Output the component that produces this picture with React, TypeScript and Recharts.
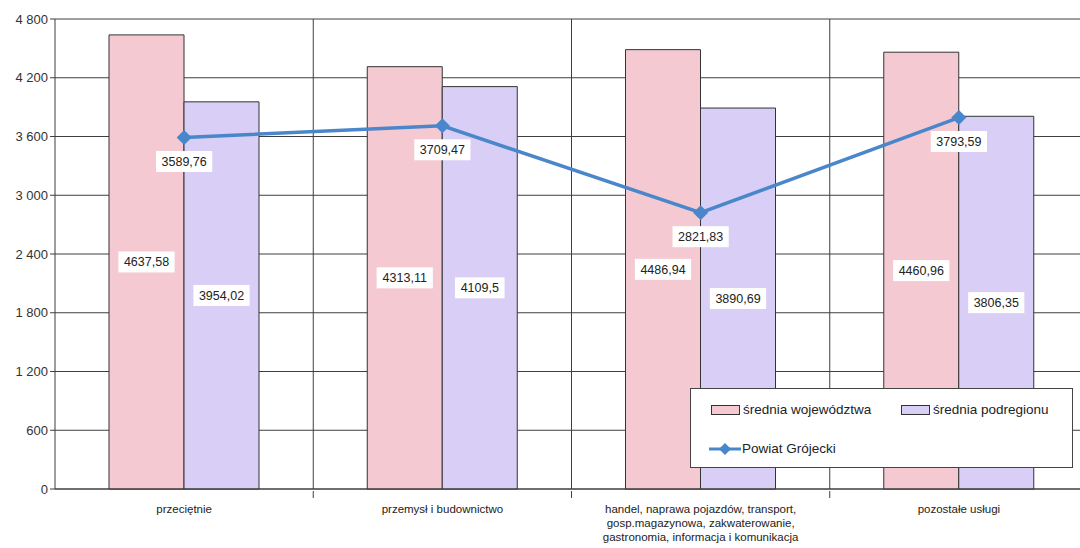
import React from "react";
import {
  ComposedChart, Bar, Line, XAxis, YAxis, CartesianGrid, LabelList,
} from "recharts";

const categories = [
  "przeciętnie",
  "przemysł i budownictwo",
  "handel, naprawa pojazdów, transport,\ngosp.magazynowa, zakwaterowanie,\ngastronomia, informacja i komunikacja",
  "pozostałe usługi",
];
const sredniaWojewodztwa = [4637.58, 4313.11, 4486.94, 4460.96];
const sredniaPodregionu = [3954.02, 4109.5, 3890.69, 3806.35];
const powiatGrojecki = [3589.76, 3709.47, 2821.83, 3793.59];
const yTicks = [0, 600, 1200, 1800, 2400, 3000, 3600, 4200, 4800];

const data = categories.map((name, i) => ({
  name,
  woj: sredniaWojewodztwa[i],
  pod: sredniaPodregionu[i],
  powiat: powiatGrojecki[i],
}));

const FONT = '"Liberation Sans Narrow", "Arial Narrow", "Liberation Sans", Arial, sans-serif';
const PINK = "#F5C9D2";
const LILAC = "#D8CEF6";
const BLUE = "#4A86CA";
const GRID = "#3f3f3f";

const fmt = (v: number) => String(v).replace(".", ",");
const thousands = (v: number) => String(v).replace(/\B(?=(\d{3})+(?!\d))/g, " ");

function LabelBox({ cx, cy, text }: { cx: number; cy: number; text: string }) {
  const w = text.length * 6.6 + 10;
  const h = 21;
  return (
    <g>
      <rect x={cx - w / 2} y={cy - h / 2} width={w} height={h} fill="#fff" />
      <text x={cx} y={cy + 4.5} textAnchor="middle" fontSize={12.5} fill="#222" fontFamily={FONT}>
        {text}
      </text>
    </g>
  );
}

const barLabel = (props: any) => {
  const { x, y, width, height, value } = props;
  return <LabelBox cx={x + width / 2} cy={y + height / 2} text={fmt(value)} />;
};

const lineLabel = (props: any) => {
  const { x, y, value } = props;
  return <LabelBox cx={x} cy={y + 24} text={fmt(value)} />;
};

const Diamond = (props: any) => {
  const { cx, cy } = props;
  const r = 7.5;
  return (
    <path
      d={`M${cx},${cy - r} L${cx + r},${cy} L${cx},${cy + r} L${cx - r},${cy} Z`}
      fill={BLUE}
    />
  );
};

const XTick = (props: any) => {
  const { x, y, payload, width } = props;
  const lines = String(payload.value).split("\n");
  const half = typeof width === "number" ? width / categories.length / 2 : 0;
  return (
    <g>
      {half > 0 && payload.index < categories.length - 1 && (
        <line x1={x + half} y1={y - 8} x2={x + half} y2={y - 1} stroke={GRID} />
      )}
      {lines.map((l, i) => (
        <text
          key={i}
          x={x}
          y={y + 14 + i * 14}
          textAnchor="middle"
          fontSize={11.5}
          fill="#222"
          fontFamily={FONT}
        >
          {l}
        </text>
      ))}
    </g>
  );
};

export default function App() {
  return (
    <div
      style={{
        position: "absolute", left: 0, top: 0, width: 1080, height: 548,
        overflow: "hidden", background: "#fff",
      }}
    >
      <ComposedChart
        width={1088}
        height={548}
        data={data}
        margin={{ top: 19, right: 0, left: 0, bottom: 4 }}
        barGap={0}
      >
        <CartesianGrid
          stroke={GRID}
          strokeWidth={1}
          verticalCoordinatesGenerator={({ offset }: any) =>
            [1, 2, 3].map((i) => offset.left + (offset.width * i) / categories.length)
          }
        />
        <XAxis
          dataKey="name"
          interval={0}
          height={55}
          tick={<XTick />}
          tickLine={false}
          tickSize={8}
          axisLine={{ stroke: GRID }}
        />
        <YAxis
          width={55}
          domain={[0, 4800]}
          ticks={yTicks}
          tickFormatter={thousands}
          tickSize={5}
          tickLine={{ stroke: GRID }}
          axisLine={{ stroke: GRID }}
          tick={{ fontSize: 13, fill: "#333", fontFamily: FONT }}
        />
        <Bar dataKey="woj" name="średnia województwa" fill={PINK} stroke="#333" strokeWidth={1} barSize={75} isAnimationActive={false}>
          <LabelList dataKey="woj" content={barLabel} />
        </Bar>
        <Bar dataKey="pod" name="średnia podregionu" fill={LILAC} stroke="#333" strokeWidth={1} barSize={75} isAnimationActive={false}>
          <LabelList dataKey="pod" content={barLabel} />
        </Bar>
        <Line
          dataKey="powiat"
          name="Powiat Grójecki"
          stroke={BLUE}
          strokeWidth={3.5}
          dot={<Diamond />}
          activeDot={false}
          isAnimationActive={false}
        >
          <LabelList dataKey="powiat" content={lineLabel} />
        </Line>
      </ComposedChart>

      <div
        style={{
          position: "absolute", left: 690, top: 388, width: 383, height: 80,
          border: "1px solid #444", background: "#fff", boxSizing: "border-box",
          fontFamily: FONT, fontSize: 13.5, color: "#222",
        }}
      >
        <div style={{ position: "absolute", left: 20, top: 13, display: "flex", alignItems: "center" }}>
          <span style={{ width: 27, height: 8, background: PINK, border: "1px solid #333", marginRight: 3 }} />
          średnia województwa
        </div>
        <div style={{ position: "absolute", left: 210, top: 13, display: "flex", alignItems: "center" }}>
          <span style={{ width: 27, height: 8, background: LILAC, border: "1px solid #333", marginRight: 3 }} />
          średnia podregionu
        </div>
        <div style={{ position: "absolute", left: 18, top: 52, display: "flex", alignItems: "center" }}>
          <svg width={32} height={14} style={{ marginRight: 1 }}>
            <line x1={0} y1={7} x2={32} y2={7} stroke={BLUE} strokeWidth={3} />
            <path d="M16,1 L22,7 L16,13 L10,7 Z" fill={BLUE} />
          </svg>
          Powiat Grójecki
        </div>
      </div>
    </div>
  );
}
